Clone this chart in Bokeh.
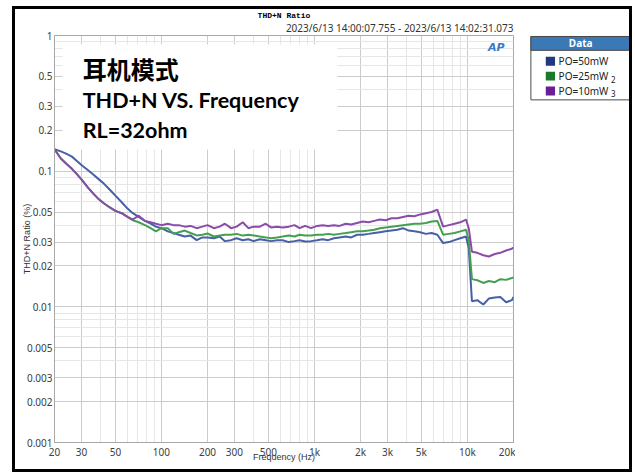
from bokeh.plotting import figure
from bokeh.layouts import row
from bokeh.models import Label, BoxAnnotation, FixedTicker, Title, Range1d
from bokeh.core.properties import value
from bokeh.embed import file_html
from bokeh.resources import INLINE

# ---------------- data ----------------
freq = [20, 22, 24, 26, 28, 30, 33, 36, 39, 42,
        46, 50, 55, 60, 65, 71, 78, 85, 92, 100,
        110, 120, 130, 142, 155, 170, 185, 200, 220, 240,
        260, 285, 310, 340, 370, 400, 440, 480, 520, 570,
        620, 680, 740, 800, 870, 950, 1040, 1130, 1230, 1340,
        1460, 1600, 1740, 1900, 2070, 2260, 2460, 2680, 2920, 3190,
        3480, 3790, 4130, 4500, 4910, 5350, 5830, 6360, 6930, 7560,
        8240, 8980, 9790, 10200, 10700, 11600, 12700, 13800, 15100, 16400,
        17900, 19500, 20000]

po_50mw = [0.145, 0.140, 0.134, 0.128, 0.119, 0.111, 0.102, 0.094, 0.087, 0.081,
           0.073, 0.066, 0.059, 0.053, 0.049, 0.046, 0.043, 0.041, 0.039, 0.038,
           0.036, 0.035, 0.034, 0.033, 0.0335, 0.031, 0.0325, 0.0325, 0.032, 0.033,
           0.0305, 0.031, 0.032, 0.031, 0.0315, 0.0305, 0.0315, 0.031, 0.0305, 0.031,
           0.031, 0.030, 0.0305, 0.031, 0.0303, 0.0305, 0.031, 0.0315, 0.031, 0.032,
           0.0325, 0.033, 0.0325, 0.034, 0.034, 0.0345, 0.035, 0.0355, 0.036, 0.0365,
           0.037, 0.038, 0.0365, 0.036, 0.0355, 0.0345, 0.035, 0.034, 0.0295, 0.030,
           0.031, 0.032, 0.033, 0.027, 0.0110, 0.0112, 0.0104, 0.0115, 0.0117, 0.0118,
           0.0108, 0.0112, 0.0118]

po_25mw = [0.145, 0.124, 0.113, 0.104, 0.095, 0.087, 0.076, 0.068, 0.062, 0.058,
           0.054, 0.051, 0.049, 0.046, 0.0435, 0.042, 0.040, 0.038, 0.036, 0.038,
           0.038, 0.0345, 0.0355, 0.0365, 0.035, 0.0336, 0.034, 0.0347, 0.033, 0.0335,
           0.034, 0.034, 0.0345, 0.0335, 0.034, 0.0336, 0.033, 0.0325, 0.032, 0.0325,
           0.033, 0.0336, 0.033, 0.034, 0.0336, 0.0335, 0.034, 0.034, 0.0345, 0.034,
           0.0345, 0.035, 0.0355, 0.036, 0.036, 0.0365, 0.037, 0.038, 0.0385, 0.039,
           0.0395, 0.040, 0.0405, 0.041, 0.041, 0.0415, 0.0425, 0.043, 0.034, 0.0345,
           0.035, 0.036, 0.037, 0.031, 0.0160, 0.0157, 0.0150, 0.0155, 0.0152, 0.0160,
           0.0158, 0.0163, 0.0165]

po_10mw = [0.145, 0.124, 0.113, 0.104, 0.095, 0.087, 0.076, 0.068, 0.062, 0.058,
           0.054, 0.051, 0.049, 0.046, 0.044, 0.047, 0.043, 0.042, 0.041, 0.040,
           0.041, 0.040, 0.040, 0.039, 0.0395, 0.038, 0.039, 0.040, 0.038, 0.039,
           0.041, 0.038, 0.039, 0.042, 0.038, 0.039, 0.039, 0.041, 0.0385, 0.039,
           0.0385, 0.039, 0.040, 0.038, 0.0395, 0.038, 0.0395, 0.040, 0.0395, 0.040,
           0.0395, 0.041, 0.0405, 0.0415, 0.0425, 0.042, 0.043, 0.044, 0.0435, 0.045,
           0.045, 0.046, 0.047, 0.0465, 0.048, 0.049, 0.050, 0.052, 0.039, 0.040,
           0.041, 0.042, 0.044, 0.038, 0.0255, 0.025, 0.024, 0.0235, 0.0245, 0.025,
           0.026, 0.0268, 0.0274]

series = [po_50mw, po_25mw, po_10mw]
series_names = ["PO=50mW", "PO=25mW", "PO=10mW"]
series_suffix = ["", "2", "3"]
line_colors = ["#4660a8", "#44a050", "#8a4ca8"]
legend_colors = ["#1f3a80", "#1a7a2a", "#6a1f96"]

x_ticks = [20, 30, 50, 100, 200, 300, 500, 1000, 2000, 3000, 5000, 10000, 20000]
x_tick_labels = ["20", "30", "50", "100", "200", "300", "500", "1k", "2k", "3k", "5k", "10k", "20k"]
x_minor = [40, 60, 70, 80, 90, 400, 600, 700, 800, 900, 4000, 6000, 7000, 8000, 9000]
y_ticks = [0.001, 0.002, 0.003, 0.005, 0.01, 0.02, 0.03, 0.05, 0.1, 0.2, 0.3, 0.5, 1]
y_tick_labels = ["0.001", "0.002", "0.003", "0.005", "0.01", "0.02", "0.03", "0.05",
                 "0.1", "0.2", "0.3", "0.5", "1"]
y_minor = [0.004, 0.006, 0.007, 0.008, 0.009, 0.04, 0.06, 0.07, 0.08, 0.09,
           0.4, 0.6, 0.7, 0.8, 0.9]

title_text = "THD+N Ratio"
date_text = "2023/6/13 14:00:07.755 - 2023/6/13 14:02:31.073"
x_label = "Frequency (Hz)"
y_label = "THD+N Ratio (%)"
legend_title = "Data"

# ---------------- main figure ----------------
H = 460
W1 = 500
p = figure(width=W1, height=H, x_axis_type="log", y_axis_type="log",
           x_range=(20, 20000), y_range=(0.001, 1),
           output_backend="svg", toolbar_location=None, title_location=None,
           min_border_left=39, min_border_right=5, min_border_top=26, min_border_bottom=23,
           background_fill_color="white", border_fill_color="white")
p.styles = {"border-left": "3px solid #000000", "border-top": "3px solid #000000",
            "border-bottom": "3px solid #000000", "box-sizing": "content-box",
            "margin-left": "12px", "margin-top": "6px"}
p.outline_line_color = "#a8a8a8"

# page-pixel helpers for in-frame annotations (frame: x 54..510, y 35..446)
FX0, FX1, FY0, FY1 = 54.0, 510.0, 35.0, 446.0
def sx(px):
    return 20 * 10 ** ((px - FX0) * 3 / (FX1 - FX0))
def sy(py):
    return 10 ** (-(py - FY0) * 3 / (FY1 - FY0))

for ax, tk, lb, mn in ((p.xaxis[0], x_ticks, x_tick_labels, x_minor),
                       (p.yaxis[0], y_ticks, y_tick_labels, y_minor)):
    ax.ticker = FixedTicker(ticks=tk, minor_ticks=mn)
    ax.major_label_overrides = {t: l for t, l in zip(tk, lb)}
    ax.major_tick_line_color = None
    ax.minor_tick_line_color = None
    ax.major_tick_out = 0
    ax.major_tick_in = 0
    ax.minor_tick_out = 0
    ax.minor_tick_in = 0
    ax.axis_line_color = "#a8a8a8"
    ax.major_label_text_font = "Noto Sans"
    ax.major_label_text_font_size = "10px"
    ax.major_label_text_color = "#404040"
    ax.major_label_standoff = 2
    ax.axis_label_text_font = "Liberation Sans"
    ax.axis_label_text_font_size = "9px"
    ax.axis_label_text_font_style = "normal"
    ax.axis_label_text_color = "#333333"

p.xaxis[0].axis_label = x_label
p.xaxis[0].axis_label_standoff = -10
p.yaxis[0].axis_label = y_label
p.yaxis[0].axis_label_standoff = -8

# small blank spacer below the axis so the axis title stays inside the canvas
p.add_layout(Title(text=" ", text_font="Noto Sans", text_font_size="6px",
                   standoff=1), "below")

for g in (p.xgrid[0], p.ygrid[0]):
    g.grid_line_color = "#cccccc"
    g.minor_grid_line_color = "#e6e6e6"

for vals, col in zip(series, line_colors):
    p.line(freq, vals, line_color=col, line_width=2)

# titles above the frame (first added is nearest the frame)
p.add_layout(Title(text=date_text, align="right", text_font="Noto Sans",
                   text_font_size="10px", text_font_style="normal",
                   text_color="#333333", standoff=2), "above")
p.add_layout(Title(text=title_text, align="center", text_font="Liberation Mono",
                   text_font_size="8px", text_font_style="bold",
                   text_color="#000000", standoff=-4), "above")

# white box behind the annotation text
p.add_layout(BoxAnnotation(left=sx(62), right=sx(335), top=sy(44), bottom=sy(150),
                           fill_color="white", fill_alpha=1.0, line_color=None,
                           level="underlay"))

def lab(px, py, text, size, font="Noto Sans", color="#000000", align="left",
        baseline="middle", style="normal"):
    p.add_layout(Label(x=sx(px), y=sy(py), text=text, text_font_size=size,
                       text_font=font, text_color=color, text_align=align,
                       text_baseline=baseline, text_font_style=style))

lab(82, 68, "耳机模式", "24px", font="Noto Sans CJK SC", style="bold")
lab(82, 100, "THD+N VS. Frequency", "21.5px", font="Lato", style="bold")
lab(82, 130, "RL=32ohm", "21.5px", font="Lato", style="bold")
lab(493, 47, "AP", "11px", font="DejaVu Sans", style="bold italic", color="#3a78c8",
    align="center")

# ---------------- legend panel (right) ----------------
# ranges are given in page pixels: the panel's frame is aligned with the main frame
W2 = 114
q = figure(width=W2, height=H, x_range=Range1d(515, 515 + W2), y_range=Range1d(FY1, FY0),
           output_backend="svg", toolbar_location=None, title_location=None,
           x_axis_location=None, y_axis_location=None,
           min_border_left=0, min_border_right=0, min_border_top=0, min_border_bottom=0,
           background_fill_color="white", border_fill_color="white")
q.styles = {"border-right": "3px solid #000000", "border-top": "3px solid #000000",
            "border-bottom": "3px solid #000000", "box-sizing": "content-box",
            "margin-top": "6px"}
q.outline_line_color = None
q.xgrid.visible = False
q.ygrid.visible = False

LX0, LX1, LY0, LY1, HDR = 530, 627, 36, 100, 14
q.quad(left=[LX0], right=[LX1], top=[LY0], bottom=[LY1], fill_color="white",
       line_color="#4a4a4a", line_width=1)
q.quad(left=[LX0], right=[LX1], top=[LY0], bottom=[LY0 + HDR], fill_color="#3a78b6",
       line_color="#4a4a4a", line_width=1)
q.text(x=[(LX0 + LX1) / 2], y=[LY0 + HDR / 2], text=[legend_title], text_color="white",
       text_font=value("Noto Sans"), text_font_size="10px", text_font_style="bold",
       text_align="center", text_baseline="middle")
rows_y = [61, 76, 91]
q.rect(x=[549] * 3, y=rows_y, width=9, height=9, fill_color=legend_colors,
       line_color=None)
q.text(x=[557] * 3, y=rows_y, text=series_names, text_color="#222222",
       text_font=value("Noto Sans"), text_font_size="10px",
       text_align="left", text_baseline="middle")
q.text(x=[608, 608], y=[rows_y[1] + 3, rows_y[2] + 3], text=series_suffix[1:],
       text_color="#222222", text_font=value("Noto Sans"), text_font_size="8px",
       text_align="left", text_baseline="middle")

layout = row(p, q)
open("out.html", "w").write(file_html(layout, INLINE))
